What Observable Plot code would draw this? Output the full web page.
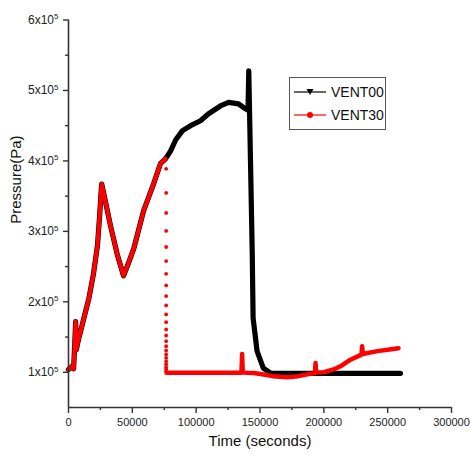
<!DOCTYPE html>
<html><head><meta charset="utf-8">
<script src="https://cdn.jsdelivr.net/npm/d3@7"></script>
<script src="https://cdn.jsdelivr.net/npm/@observablehq/plot@0.6"></script>
<style>
body{margin:0;background:#fff;font-family:"Liberation Sans",Arial,sans-serif;}
#wrap{position:relative;width:470px;height:468px;}
#legend{position:absolute;left:289px;top:77px;width:95px;height:51px;border:1px solid #555;background:#fff;font-size:14px;color:#111;}
#legend .row{position:absolute;left:3px;display:flex;align-items:center;height:16px;}
#legend svg{margin-right:4px;}
</style></head><body><div id="wrap"></div>
<script>
// ---- tick values / labels ----
const xTicks = [0, 50000, 100000, 150000, 200000, 250000, 300000];
const xMinor = [25000, 75000, 125000, 175000, 225000, 275000];
const yTicks = [100000, 200000, 300000, 400000, 500000, 600000];
const yMinor = [150000, 250000, 350000, 450000, 550000];
const yTickMantissa = ["1x10", "2x10", "3x10", "4x10", "5x10", "6x10"];
const yTickExponent = "5";
const seriesNames = ["VENT00", "VENT30"];
const xLabel = "Time (seconds)";
const yLabel = "Pressure(Pa)";

// ---- VENT00 (black) ----
const vent00Time = [0, 2500, 4000, 5000, 5600, 6200, 7000, 8000, 9500, 12500, 16000, 19600, 22700, 24300, 25500, 26000, 27700, 32900, 38100, 43100, 47000, 51200, 58800, 66600, 72000, 76000, 79900, 84000, 89300, 95600, 103400, 109700, 119000, 125400, 133200, 138600, 140600, 141200, 143900, 144600, 147700, 152600, 158000, 170000, 200000, 260000];
const vent00P = [104000, 108000, 105000, 145000, 172000, 132000, 140000, 148000, 158000, 180000, 205000, 240000, 280000, 320000, 355000, 367000, 353000, 308000, 268000, 237000, 255000, 276000, 329000, 367000, 396000, 403000, 414000, 430000, 443000, 450000, 457000, 467000, 478000, 483000, 481000, 474000, 472000, 528000, 272000, 177000, 130000, 106000, 99000, 98500, 98500, 98500];

// ---- VENT30 (red) ----
const vent30TimeBefore = [0, 2500, 4000, 5000, 5600, 6200, 7000, 8000, 9500, 12500, 16000, 19600, 22700, 24300, 25500, 26000, 27700, 32900, 38100, 43100, 47000, 51200, 58800, 66600, 72000, 76000];
const vent30PBefore = [104000, 108000, 105000, 145000, 172000, 132000, 140000, 148000, 158000, 180000, 205000, 240000, 280000, 320000, 355000, 367000, 353000, 308000, 268000, 237000, 255000, 276000, 329000, 367000, 396000, 403000];
const vent30DropTime = 76500;
const vent30DropP = [388800, 354600, 326200, 300600, 277800, 257900, 239800, 223300, 208100, 194900, 182100, 171100, 160700, 152200, 144100, 137000, 130900, 125200, 120300, 115600, 111400, 107100, 104300, 101400];
const vent30TimeAfter = [76800, 90000, 110000, 130000, 135500, 136000, 136500, 145000, 150400, 160000, 171500, 180000, 187000, 193000, 193500, 194000, 200000, 207600, 213000, 220000, 229500, 230000, 230500, 242000, 250000, 258500];
const vent30PAfter = [99500, 99500, 99500, 99500, 99500, 126000, 99500, 99000, 97500, 94500, 93000, 94500, 97000, 99000, 113000, 99500, 100000, 104000, 108500, 117000, 125000, 137000, 126000, 130000, 132000, 134000];

const vent00 = vent00Time.map((t, i) => ({t, p: vent00P[i]}));
const vent30a = vent30TimeBefore.map((t, i) => ({t, p: vent30PBefore[i]}));
const vent30drop = vent30DropP.map(p => ({t: vent30DropTime, p}));
const vent30b = vent30TimeAfter.map((t, i) => ({t, p: vent30PAfter[i]}));

const axisColor = "#333";
const plot = Plot.plot({
  width: 470, height: 468,
  marginLeft: 68, marginRight: 19, marginTop: 19.5, marginBottom: 61,
  x: {domain: [0, 300000]},
  y: {domain: [50000, 600000]},
  style: {fontFamily: "Liberation Sans, Arial, sans-serif", fontSize: "12px", color: "#222", background: "#fff"},
  marks: [
    Plot.line(vent00, {x: "t", y: "p", stroke: "#000", strokeWidth: 5.2, curve: "linear"}),
    Plot.line(vent30a, {x: "t", y: "p", stroke: "#ff0000", strokeWidth: 4.2}),
    Plot.dot(vent30drop, {x: "t", y: "p", r: 1.9, fill: "#ff0000", stroke: null}),
    Plot.line(vent30b, {x: "t", y: "p", stroke: "#ff0000", strokeWidth: 4.5}),
    Plot.ruleX([0], {stroke: axisColor, strokeWidth: 1.6}),
    Plot.ruleY([50000], {stroke: axisColor, strokeWidth: 1.6}),
    Plot.axisX({ticks: xTicks, tickSize: 6, tickPadding: 5, fontSize: 11, tickFormat: d => String(d), label: null, stroke: axisColor, strokeWidth: 1.4}),
    Plot.axisX({ticks: xMinor, tickSize: 3, tickFormat: () => "", label: null, stroke: axisColor, strokeWidth: 1.4}),
    Plot.axisY({ticks: yTicks, tickSize: 5, tickPadding: 5, tickFormat: d => yTickMantissa[yTicks.indexOf(d)], label: null, stroke: axisColor, strokeWidth: 1.4}),
    Plot.axisY({ticks: yMinor, tickSize: 3, tickFormat: () => "", label: null, stroke: axisColor, strokeWidth: 1.4}),
    Plot.text([xLabel], {frameAnchor: "bottom", dy: 38, fontSize: 15, fill: "#111"}),
    Plot.text([yLabel], {frameAnchor: "left", dx: -52, dy: 10, rotate: -90, fontSize: 15, fill: "#111"})
  ]
});

// superscript exponent on y tick labels
d3.select(plot).selectAll('g[aria-label="y-axis tick label"] text').each(function() {
  const t = d3.select(this);
  if (t.text()) t.append("tspan").attr("dy", "-0.55em").attr("font-size", "8px").text(yTickExponent);
});

const wrap = document.getElementById("wrap");
wrap.appendChild(plot);

// legend
const legend = document.createElement("div");
legend.id = "legend";
legend.innerHTML = `
<div class="row" style="top:6px">
  <svg width="34" height="12"><line x1="1" y1="6" x2="33" y2="6" stroke="#000" stroke-width="1.2"/><path d="M13.5,3 L20.5,3 L17,9 Z" fill="#000"/></svg>
  <span>${seriesNames[0]}</span></div>
<div class="row" style="top:29px">
  <svg width="34" height="12"><line x1="1" y1="6" x2="33" y2="6" stroke="#ff0000" stroke-width="1.2"/><circle cx="17" cy="6" r="3" fill="#ff0000"/></svg>
  <span>${seriesNames[1]}</span></div>`;
wrap.appendChild(legend);
</script>
</body></html>
